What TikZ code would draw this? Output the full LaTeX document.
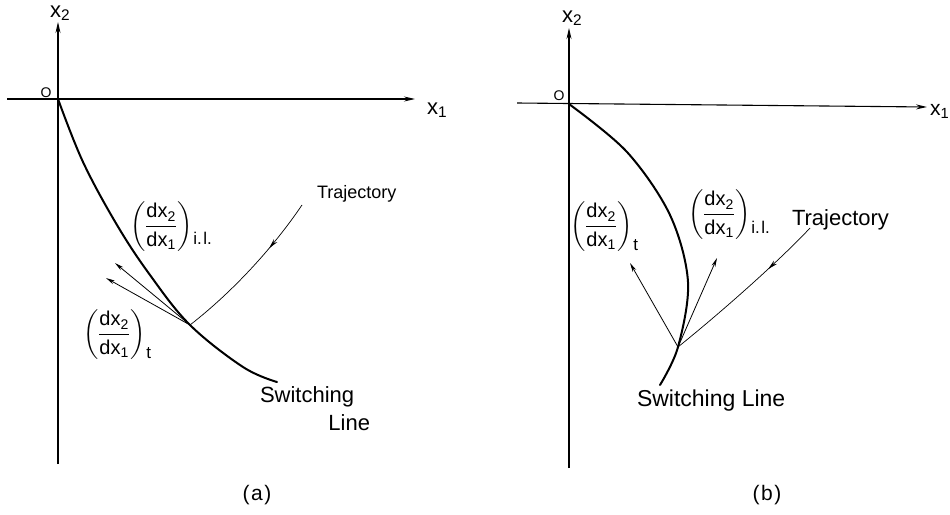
\documentclass[tikz,border=0pt]{standalone}
\usepackage{fontspec}
\usepackage{amsmath}
\setmainfont{Liberation Sans}
\usetikzlibrary{arrows.meta,decorations.markings}
\newcommand{\dxlabel}[2]{$\left(\dfrac{\text{dx}_{\text{2}}}{\text{dx}_{\text{1}}}\right)$\kern1pt\raisebox{#1}{\fontsize{17}{18}\selectfont #2}}
\begin{document}
\begin{tikzpicture}[x=1pt,y=-1pt,
  axis/.style={line width=1.1pt,-{Stealth[length=11pt,width=5pt]}},
  swline/.style={line width=2pt,line cap=round},
  slope/.style={line width=0.8pt,-{Stealth[length=9pt,width=4pt]}},
  traj/.style={line width=0.7pt,postaction={decorate},
    decoration={markings,mark=at position 0.33 with {\arrow{Stealth[length=10pt,width=4.5pt]}}}},
  lbl/.style={inner sep=0pt,outer sep=0pt},
  frac/.style={lbl,anchor=base west,font=\fontsize{20}{24}\selectfont},
]
\useasboundingbox (0,0) rectangle (950,514);

% ---------- panel (a) ----------
\coordinate (Oa) at (58,99);
\coordinate (axL) at (7,99);
\coordinate (axR) at (415,99);
\coordinate (ayB) at (58,464);
\coordinate (ayT) at (58,22);
\draw[axis] (axL) -- (axR);
\draw[axis] (ayB) -- (ayT);
\node[lbl,anchor=base west,font=\fontsize{22}{26}\selectfont] (x2a) at (50,17) {x\textsubscript{2}};
\node[lbl,anchor=base west,font=\fontsize{22}{26}\selectfont] (x1a) at (427,114) {x\textsubscript{1}};
\node[lbl,anchor=base west,font=\fontsize{14}{16}\selectfont] (oa) at (40.5,97) {O};

\coordinate (Ja) at (190,325);
\draw[swline] plot[smooth,tension=0.6] coordinates {(58,99) (83,162) (117,225) (150,275) (190,325) (243,367) (277,382)};
\coordinate (ta1) at (115,263);
\coordinate (ta2) at (106,278);
\draw[slope] (Ja) -- (ta1);
\draw[slope] (Ja) -- (ta2);
\coordinate (Ta) at (302,205);
\draw[traj] (Ta) .. controls (275,245) and (235,290) .. (Ja);

\node[frac] (ila) at (130,232) {\dxlabel{-12pt}{i.\kern1.5pt l.}};
\node[frac] (tla) at (83,340) {\dxlabel{-18pt}{t}};
\node[lbl,anchor=base west,font=\fontsize{18}{22}\selectfont] (trja) at (317,198) {Trajectory};
\node[lbl,anchor=base west,font=\fontsize{22}{26}\selectfont] (swa) at (260,402) {Switching};
\node[lbl,anchor=base east,font=\fontsize{22}{26}\selectfont] (lna) at (370,430) {Line};
\node[lbl,font=\fontsize{21}{24}\selectfont] (capa) at (257,495) {(\kern1.5pt a\kern1.5pt)};

% ---------- panel (b) ----------
\coordinate (Ob) at (569,104);
\coordinate (bxL) at (517,103);
\coordinate (bxR) at (927,107);
\coordinate (byB) at (569,468);
\coordinate (byT) at (569,28);
\draw[axis] (bxL) -- (bxR);
\draw[axis] (byB) -- (byT);
\node[lbl,anchor=base west,font=\fontsize{22}{26}\selectfont] (x2b) at (562,22) {x\textsubscript{2}};
\node[lbl,anchor=base west,font=\fontsize{21}{25}\selectfont] (x1b) at (930,115) {x\textsubscript{1}};
\node[lbl,anchor=base west,font=\fontsize{14}{16}\selectfont] (ob) at (553.5,100) {O};

\coordinate (Jb) at (678,347);
\draw[swline] plot[smooth,tension=0.55] coordinates {(569,104) (627,152) (670,215) (688,282) (678,347) (660,385)};
\coordinate (tb1) at (630,263);
\coordinate (tb2) at (717,258);
\draw[slope] (Jb) -- (tb1);
\draw[slope] (Jb) -- (tb2);
\coordinate (Tb) at (810,228);
\draw[traj] (Tb) .. controls (785,255) and (730,305) .. (Jb);

\node[frac] (tlb) at (570,232) {\dxlabel{-18pt}{t}};
\node[frac] (ilb) at (688,220) {\dxlabel{-13pt}{i.\kern1.5pt l.}};
\node[lbl,anchor=base west,font=\fontsize{22}{26}\selectfont] (trjb) at (792,225) {Trajectory};
\node[lbl,anchor=base west,font=\fontsize{23}{27}\selectfont] (swb) at (637,406) {Switching Line};
\node[lbl,font=\fontsize{21}{24}\selectfont] (capb) at (767,495) {(\kern1.5pt b\kern1.5pt)};
\end{tikzpicture}
\end{document}
